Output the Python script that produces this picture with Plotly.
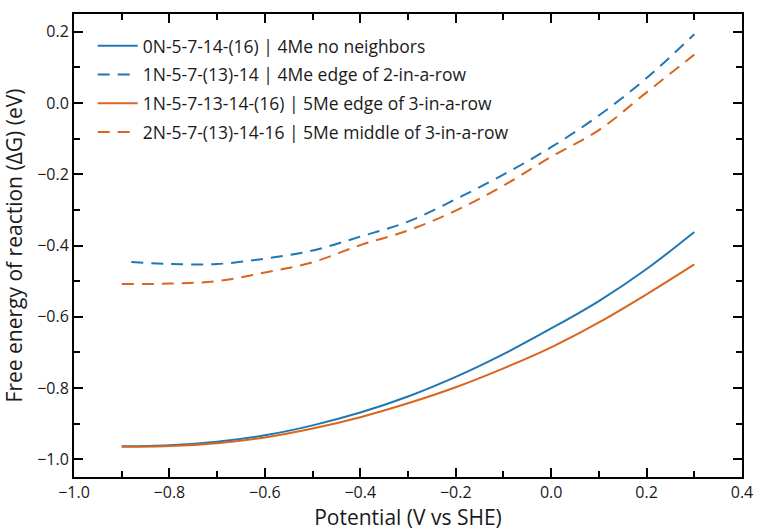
import plotly.graph_objects as go

# Potential (V vs SHE)
x_grid = [-0.9, -0.8, -0.7, -0.6, -0.5, -0.4, -0.3, -0.2, -0.1, 0.0, 0.1, 0.2, 0.3]
x_dash_blue = [-0.88, -0.8, -0.7, -0.6, -0.5, -0.4, -0.3, -0.2, -0.1, 0.0, 0.1, 0.2, 0.3]

# Free energy of reaction (eV)
y_0N = [-0.964, -0.961, -0.951, -0.933, -0.905, -0.869, -0.824, -0.769, -0.705, -0.633, -0.556, -0.466, -0.362]
y_1N_4Me = [-0.446, -0.452, -0.452, -0.437, -0.414, -0.375, -0.333, -0.270, -0.201, -0.124, -0.035, 0.070, 0.193]
y_1N_5Me = [-0.965, -0.963, -0.955, -0.939, -0.914, -0.882, -0.843, -0.798, -0.745, -0.686, -0.616, -0.537, -0.453]
y_2N_5Me = [-0.508, -0.507, -0.500, -0.476, -0.447, -0.399, -0.358, -0.302, -0.232, -0.151, -0.076, 0.030, 0.136]

names = [
    "0N-5-7-14-(16) | 4Me no neighbors",
    "1N-5-7-(13)-14 | 4Me edge of 2-in-a-row",
    "1N-5-7-13-14-(16) | 5Me edge of 3-in-a-row",
    "2N-5-7-(13)-14-16 | 5Me middle of 3-in-a-row",
]

X_RANGE = [-1.0, 0.4]
Y_RANGE = [-1.05, 0.25]

BLUE = "#1f77b4"
ORANGE = "#d9661f"
FONT = "Open Sans"
TXT = "#1a1a1a"

fig = go.Figure()
fig.add_trace(go.Scatter(x=x_grid, y=y_0N, mode="lines", name=names[0], legendgroup="a",
                         line=dict(color=BLUE, width=2, shape="spline")))
fig.add_trace(go.Scatter(x=x_dash_blue, y=y_1N_4Me, mode="lines", name=names[1], legendgroup="b",
                         line=dict(color=BLUE, width=2, dash="12px,8px", shape="spline")))
fig.add_trace(go.Scatter(x=x_grid, y=y_1N_5Me, mode="lines", name=names[2], legendgroup="c",
                         line=dict(color=ORANGE, width=2, shape="spline")))
fig.add_trace(go.Scatter(x=x_grid, y=y_2N_5Me, mode="lines", name=names[3], legendgroup="d",
                         line=dict(color=ORANGE, width=2, dash="12px,8px", shape="spline")))
# transparent copy on the overlay axes so they get drawn (ticks on bottom/left via mirror)
fig.add_trace(go.Scatter(x=x_grid, y=y_0N, mode="lines", xaxis="x2", yaxis="y2",
                         showlegend=False, hoverinfo="skip", opacity=0,
                         line=dict(color=BLUE, width=1)))

tick_style = dict(
    showline=True, linecolor="black", linewidth=2, mirror="allticks",
    ticks="inside", ticklen=9, tickwidth=2, tickcolor="black",
    showgrid=False, zeroline=False, tickformat=".1f", tick0=0, dtick=0.2,
    minor=dict(ticks="inside", ticklen=6, tickwidth=2, tickcolor="black", dtick=0.1, showgrid=False),
)

fig.update_layout(
    width=765, height=531,
    margin=dict(l=74, r=16, t=12, b=54),
    paper_bgcolor="white", plot_bgcolor="white",
    font=dict(family=FONT, color=TXT),
    xaxis=dict(
        range=X_RANGE, tickfont=dict(family=FONT, size=16, color=TXT),
        title=dict(text="Potential (V vs SHE)", font=dict(family=FONT, size=21, color=TXT), standoff=1),
        **tick_style,
    ),
    yaxis=dict(
        range=Y_RANGE, tickfont=dict(family=FONT, size=16, color=TXT),
        title=dict(text="Free energy of reaction (ΔG) (eV)", font=dict(family=FONT, size=21, color=TXT), standoff=10),
        **tick_style,
    ),
    xaxis2=dict(range=X_RANGE, overlaying="x", side="top", anchor="y2",
                showticklabels=False, **tick_style),
    yaxis2=dict(range=Y_RANGE, overlaying="y", side="right", anchor="x2",
                showticklabels=False, **tick_style),
    legend=dict(x=0.028, y=0.97, xanchor="left", yanchor="top",
                bgcolor="rgba(0,0,0,0)", font=dict(family=FONT, size=17.5, color=TXT),
                tracegroupgap=3, itemwidth=40),
    showlegend=True,
)

fig.write_html("out.html")
